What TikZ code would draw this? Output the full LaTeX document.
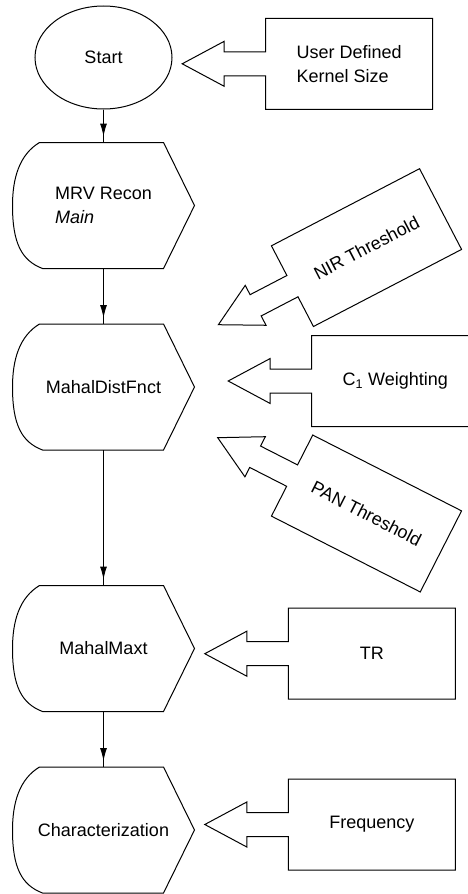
\documentclass[tikz,border=0pt]{standalone}
\usepackage{fontspec}
\setmainfont{Liberation Sans}
\usetikzlibrary{shapes.geometric,arrows.meta,decorations.markings}

\begin{document}
\begin{tikzpicture}[x=1pt, y=-1pt, line width=1pt,
  every node/.style={font=\fontsize{18pt}{24pt}\selectfont},
  proc/.style={minimum width=181pt, minimum height=125pt, align=left, inner sep=0pt},
  outline/.style={draw, line width=1pt, line join=miter},
  boxtext/.style={minimum width=167pt, minimum height=91pt, align=left, inner sep=0pt, transform shape},
  flow/.style={postaction={decorate}, decoration={markings,
    mark=at position -6pt with {\arrow{Latex[length=13pt,width=7pt]}}}},
  inbox/.pic={
    \node[boxtext] (-box) at (0,0) {#1};
    \draw[outline] (-83.5,-12) |- (83.5,-45.5) |- (-83.5,45.5) -- (-83.5,12)
      -- (-125,12) -- (-125,22.5) -- (-167,0) -- (-125,-22.5) -- (-125,-12) -- cycle;
  }]
  \path[use as bounding box, clip] (0,0) rectangle (468,894);
  % Main chain
  \node[ellipse, draw, minimum width=137pt, minimum height=103pt, inner sep=0pt] (start) at (103.5,57.5) {Start};
  \node[proc] (mrv) at (103.5,205.5) {MRV Recon\\\textit{Main}};
  \node[proc] (dist) at (103.5,387) {MahalDistFnct};
  \node[proc] (maxt) at (103.5,648.5) {MahalMaxt};
  \node[proc] (char) at (103.5,830) {Characterization};
  \foreach \n in {mrv,dist,maxt,char}
    \draw[outline] ([xshift=27pt]\n.north west) -- ([xshift=-31pt]\n.north east) -- (\n.east)
      -- ([xshift=-31pt]\n.south east) -- ([xshift=30pt]\n.south west)
      .. controls +(-21,-8) and +(0,37.5) .. (\n.west)
      .. controls +(0,-27.5) and +(-20,12) .. ([xshift=27pt]\n.north west) -- cycle;
  \foreach \a/\b in {start/mrv, mrv/dist, dist/maxt, maxt/char}
    \draw[flow] (\a) -- (\b);
  % Inputs
  \pic (kernel) at (349.2,63.8) {inbox={User Defined\\Kernel Size}};
  \pic[rotate=27.5] (nir) at (366.5,247.6) {inbox={NIR Threshold}};
  \pic (weight) at (395.2,381) {inbox={C\textsubscript{1} Weighting}};
  \pic[rotate=-27] (pan) at (366.5,513.5) {inbox={PAN Threshold}};
  \pic (tr) at (371.8,653.7) {inbox={TR}};
  \pic (freq) at (371.8,824.5) {inbox={Frequency}};
\end{tikzpicture}
\end{document}
